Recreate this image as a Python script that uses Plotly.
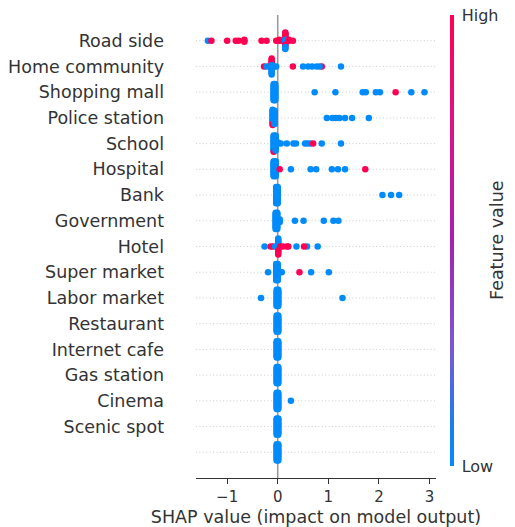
import numpy as np
import plotly.graph_objects as go

# ---------------- data ----------------
features = ["Road side", "Home community", "Shopping mall", "Police station", "School",
            "Hospital", "Bank", "Government", "Hotel", "Super market", "Labor market",
            "Restaurant", "Internet cafe", "Gas station", "Cinema", "Scenic spot", ""]

# each entry: (SHAP value, number of samples, feature value 0 = low ... 1 = high)
road_side = [(-1.38, 1, 0), (-1.31, 1, 1), (-1.00, 1, 1), (-0.83, 1, 1), (-0.77, 1, 1),
             (-0.66, 3, 1), (-0.32, 1, 1), (-0.22, 1, 1), (-0.03, 1, 1), (0.03, 2, 1),
             (0.08, 1, 1), (0.15, 7, 1), (0.15, 5, 0), (0.15, 2, 1), (0.15, 3, 0),
             (0.22, 2, 1), (0.30, 1, 1)]
home_community = [(-0.27, 1, 1), (-0.22, 1, 0), (-0.17, 1, 0), (-0.12, 5, 1), (-0.12, 8, 0),
                  (-0.07, 1, 0), (-0.03, 1, 0), (0.30, 1, 1), (0.50, 1, 0), (0.60, 1, 0),
                  (0.68, 1, 0), (0.77, 1, 0), (0.87, 1, 1), (0.83, 1, 0), (1.25, 1, 0)]
shopping_mall = [(-0.08, 15, 0), (-0.05, 15, 0), (0.73, 1, 0), (1.14, 1, 0), (1.68, 1, 0),
                 (1.74, 1, 0), (1.94, 1, 0), (2.02, 1, 0), (2.33, 1, 1), (2.64, 1, 0),
                 (2.90, 1, 0)]
police_station = [(-0.10, 14, 0), (-0.10, 2, 1), (-0.06, 14, 0), (0.97, 1, 0), (1.08, 1, 0),
                  (1.15, 1, 0), (1.22, 1, 0), (1.33, 1, 0), (1.47, 1, 0), (1.80, 1, 0)]
school = [(-0.08, 14, 0), (-0.08, 1, 1), (-0.04, 14, 0), (0.01, 2, 0), (0.06, 1, 0),
          (0.18, 1, 0), (0.31, 1, 0), (0.36, 1, 0), (0.54, 1, 0), (0.58, 1, 0),
          (0.64, 1, 0), (0.70, 1, 1), (0.87, 1, 0), (1.25, 1, 0)]
hospital = [(-0.08, 14, 0), (-0.04, 14, 0), (0.04, 1, 1), (0.26, 1, 0), (0.65, 1, 0),
            (0.76, 1, 0), (1.07, 1, 0), (1.19, 1, 0), (1.33, 1, 0), (1.73, 1, 1)]
bank = [(-0.03, 15, 0), (0.00, 15, 0), (2.07, 1, 0), (2.24, 1, 0), (2.40, 1, 0)]
government = [(-0.04, 15, 0), (-0.01, 15, 0), (0.04, 3, 0), (0.34, 1, 0), (0.51, 1, 0),
              (0.91, 1, 0), (1.10, 1, 0), (1.20, 1, 0)]
hotel = [(-0.26, 1, 0), (-0.14, 1, 1), (-0.10, 1, 1), (-0.05, 1, 0), (0.01, 9, 0),
         (0.01, 4, 1), (0.05, 1, 1), (0.10, 1, 1), (0.18, 1, 1), (0.21, 1, 1),
         (0.37, 1, 0), (0.58, 1, 0), (0.52, 1, 1), (0.79, 1, 0)]
super_market = [(-0.19, 1, 0), (-0.03, 15, 0), (0.00, 15, 0), (0.08, 1, 0), (0.43, 1, 1),
                (0.66, 1, 0), (1.01, 1, 0)]
labor_market = [(-0.33, 1, 0), (-0.02, 15, 0), (0.01, 15, 0), (1.28, 1, 0)]
restaurant = [(-0.02, 15, 0), (0.01, 15, 0)]
internet_cafe = [(-0.02, 15, 0), (0.01, 15, 0)]
gas_station = [(-0.02, 15, 0), (0.01, 15, 0)]
cinema = [(-0.02, 15, 0), (0.01, 15, 0), (0.26, 1, 0)]
scenic_spot = [(-0.02, 15, 0), (0.01, 15, 0)]
last_feature = [(-0.02, 15, 0), (0.01, 15, 0)]

rows = [road_side, home_community, shopping_mall, police_station, school, hospital, bank,
        government, hotel, super_market, labor_market, restaurant, internet_cafe,
        gas_station, cinema, scenic_spot, last_feature]

x_ticks = [-1, 0, 1, 2, 3]
colorbar_labels = ["Low", "High"]


# ---------------- beeswarm layout (SHAP style) ----------------
def swarm(entries, row_height=0.4, nbins=100):
    vals, cols = [], []
    for v, n, c in entries:
        vals += [v] * n
        cols += [c] * n
    vals = np.array(vals, float)
    cols = np.array(cols, float)
    lo, hi = vals.min(), vals.max()
    quant = np.round(nbins * (vals - lo) / (hi - lo + 1e-8))
    ys = np.zeros(len(vals))
    for q in np.unique(quant):
        idx = np.where(quant == q)[0]
        layers = np.arange(len(idx))
        offs = np.ceil(layers / 2) * ((layers % 2) * 2 - 1)
        ys[idx] = np.sort(offs)[::-1]
    ys *= 0.9 * (row_height / np.max(ys + 1))
    return vals, ys, cols


n_rows = len(features)
X, Y, C = [], [], []
for i, entries in enumerate(rows):
    pos = n_rows - 1 - i
    v, ys, c = swarm(entries)
    X.extend(v)
    Y.extend(pos + ys)
    C.extend(c)

colorscale = [[0.0, "#008bfb"], [0.08, "#1580f0"], [0.15, "#3a70e8"], [0.26, "#7a5ad0"],
              [0.5, "#a51fb5"], [0.75, "#dc1485"], [1.0, "#ff0052"]]

FONT = "DejaVu Sans"
TXT = "#333333"

fig = go.Figure()
fig.add_trace(go.Scatter(
    x=X, y=Y, mode="markers", hoverinfo="skip", showlegend=False,
    marker=dict(size=6.5, color=C, colorscale=colorscale, cmin=0, cmax=1,
                line=dict(width=0), opacity=1,
                showscale=True,
                colorbar=dict(x=1.0583, xanchor="left", xpad=0, ypad=0,
                              y=0.513, yanchor="middle", len=451, lenmode="pixels",
                              thickness=4, outlinewidth=0,
                              tickvals=[0, 1], ticktext=colorbar_labels,
                              ticks="outside", ticklen=5, tickcolor="rgba(0,0,0,0)",
                              tickfont=dict(family=FONT, size=16, color=TXT))),
))

shapes = []
for i in range(n_rows):
    pos = n_rows - 1 - i
    shapes.append(dict(type="line", xref="paper", x0=0, x1=1, yref="y", y0=pos, y1=pos,
                       line=dict(color="#cccccc", width=1, dash="1px,2.4px"), layer="below"))
shapes.append(dict(type="line", xref="x", x0=0, x1=0, yref="y", y0=-1, y1=n_rows,
                   line=dict(color="#999999", width=1.6), layer="below"))

fig.update_layout(
    width=515, height=527,
    margin=dict(l=196, r=79, t=15, b=49, autoexpand=False),
    paper_bgcolor="white", plot_bgcolor="white",
    font=dict(family=FONT, color=TXT),
    shapes=shapes,
    xaxis=dict(range=[-1.615, 3.128], tickvals=x_ticks, showgrid=False, zeroline=False,
               automargin=False,
               showline=True, linecolor=TXT, linewidth=1.2, ticks="outside", ticklen=5,
               tickcolor=TXT, tickwidth=1.2,
               tickfont=dict(family=FONT, size=15, color=TXT),
               title=dict(text="SHAP value (impact on model output)", standoff=5,
                          font=dict(family=FONT, size=17.5, color=TXT))),
    yaxis=dict(range=[-1, n_rows], tickvals=list(range(n_rows - 1, -1, -1)),
               automargin=False,
               ticktext=features, showgrid=False, zeroline=False, showline=False,
               ticks="", ticklabelstandoff=31,
               tickfont=dict(family=FONT, size=17.5, color=TXT)),
    annotations=[dict(text="Feature value", xref="paper", yref="paper", x=1.254, y=0.514,
                      xanchor="center", yanchor="middle",
                      textangle=-90, showarrow=False,
                      font=dict(family=FONT, size=17.5, color=TXT))],
)

fig.write_html("out.html", config={"displayModeBar": False},
               post_script="document.body.style.margin='0px';")
